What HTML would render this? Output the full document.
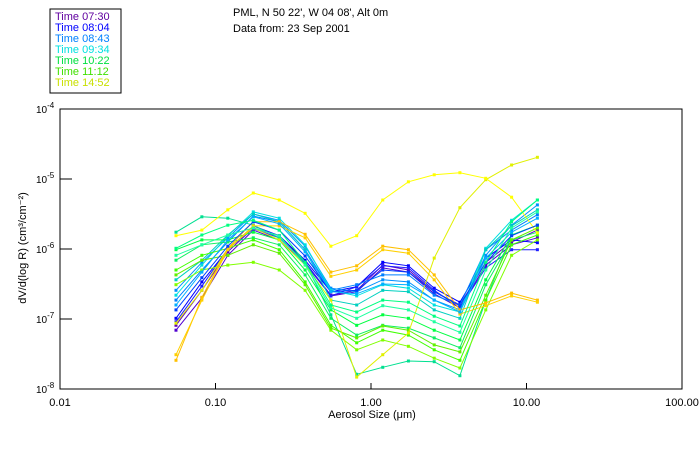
<!DOCTYPE html>
<html><head><meta charset="utf-8"><style>
body{margin:0;background:#fff;width:700px;height:450px;overflow:hidden}
svg{display:block;font-family:"Liberation Sans",sans-serif}
</style></head><body>
<svg id="chart" width="700" height="450">
<rect x="50" y="9" width="71" height="84" fill="#fff" stroke="#000" stroke-width="1"/>
<g id="legend"></g>
<text x="233" y="16" font-size="11">PML, N 50 22', W 04 08', Alt 0m</text>
<text x="233" y="32" font-size="11">Data from: 23 Sep 2001</text>
<g id="axes"></g>
<g id="series"></g>
<text x="372" y="418" font-size="11" text-anchor="middle">Aerosol Size (μm)</text>
<text transform="translate(26,248) rotate(-90)" font-size="11" text-anchor="middle">dV/d(log R) (cm³/cm⁻²)</text>
</svg>
<script>
const sizes=[0.0557,0.0817,0.120,0.175,0.257,0.377,0.552,0.809,1.19,1.74,2.55,3.73,5.47,8.02,11.75];
const legendLabels=["Time 07:30","Time 08:04","Time 08:43","Time 09:34","Time 10:22","Time 11:12","Time 14:52"];
const legendColors=["#6000a0","#0000ff","#0080ff","#00e0e0","#00e040","#40e000","#c8e000"];
const xTickValues=[0.01,0.1,1,10,100];
const xTickLabels=["0.01","0.10","1.00","10.00","100.00"];
const yTickExps=[-4,-5,-6,-7,-8];
const seriesColors=["#6000c0","#5000d0","#0000ff","#2020ff","#0080ff","#0090ff","#00e0e0","#00d0c0","#00e090","#00ff40","#10f060","#40ff00","#80ff00","#60f000","#e0f000","#ffff00","#ffc000","#ffd000","#0040ff","#00b0ff","#20ffa0","#00ff80"];
// log10 of dV/dlogR per series
const s01=[-7.09,-6.59,-6.04,-5.70,-5.81,-6.19,-6.66,-6.59,-6.23,-6.30,-6.61,-6.80,-6.19,-5.90,-5.73];
const s02=[-7.16,-6.70,-6.09,-5.73,-5.87,-6.21,-6.67,-6.61,-6.27,-6.33,-6.64,-6.84,-6.23,-5.94,-5.84];
const s03=[-6.99,-6.47,-6.01,-5.67,-5.81,-6.16,-6.61,-6.54,-6.19,-6.24,-6.56,-6.76,-6.13,-5.87,-5.91];
const s04=[-7.04,-6.53,-6.00,-5.71,-5.84,-6.19,-6.67,-6.54,-6.24,-6.27,-6.59,-6.84,-6.27,-6.01,-6.01];
const s05=[-6.73,-6.30,-5.90,-5.53,-5.61,-6.01,-6.59,-6.51,-6.37,-6.37,-6.66,-6.80,-6.01,-5.73,-5.51];
const s06=[-6.59,-6.19,-5.84,-5.50,-5.59,-5.96,-6.56,-6.61,-6.44,-6.47,-6.73,-6.87,-6.09,-5.66,-5.37];
const s07=[-6.66,-6.23,-5.81,-5.47,-5.56,-5.94,-6.59,-6.67,-6.51,-6.56,-6.80,-6.90,-5.99,-5.59,-5.30];
const s08=[-6.44,-6.16,-5.80,-5.50,-5.61,-6.01,-6.73,-6.80,-6.59,-6.61,-6.87,-6.99,-6.01,-5.67,-5.44];
const s09=[-5.76,-5.54,-5.56,-5.66,-5.84,-6.19,-6.94,-7.79,-7.69,-7.60,-7.61,-7.81,-6.73,-5.80,-5.66];
const s10=[-6.01,-5.87,-5.87,-5.76,-5.87,-6.30,-6.87,-7.09,-6.94,-6.99,-7.16,-7.30,-6.44,-5.80,-5.66];
const s11=[-6.16,-5.94,-5.90,-5.84,-5.94,-6.37,-6.99,-7.23,-7.09,-7.13,-7.27,-7.41,-6.51,-5.87,-5.76];
const s12=[-6.30,-6.09,-5.99,-5.87,-6.01,-6.47,-7.09,-7.34,-7.16,-7.23,-7.44,-7.59,-6.73,-5.94,-5.80];
const s13=[-6.51,-6.30,-6.23,-6.19,-6.30,-6.59,-7.16,-7.44,-7.30,-7.39,-7.56,-7.70,-6.87,-6.09,-5.87];
const s14=[-6.37,-6.16,-6.09,-5.94,-6.06,-6.51,-7.13,-7.27,-7.10,-7.16,-7.37,-7.47,-6.66,-5.87,-5.70];
const s15=[-7.06,-6.59,-5.99,-5.70,-5.87,-6.23,-6.73,-7.83,-7.51,-7.20,-6.13,-5.41,-5.01,-4.80,-4.69];
const s16=[-5.81,-5.73,-5.44,-5.20,-5.30,-5.49,-5.96,-5.81,-5.30,-5.04,-4.94,-4.91,-4.99,-5.26,-5.77];
const s17=[-7.59,-6.69,-5.99,-5.61,-5.61,-5.79,-6.33,-6.24,-5.96,-6.01,-6.37,-6.87,-6.77,-6.63,-6.73];
const s18=[-7.51,-6.73,-6.01,-5.67,-5.67,-5.84,-6.39,-6.30,-6.01,-6.06,-6.44,-6.93,-6.81,-6.67,-6.76];
const s19=[-6.87,-6.41,-5.96,-5.61,-5.73,-6.10,-6.61,-6.59,-6.30,-6.33,-6.61,-6.81,-6.19,-5.81,-5.66];
const s20=[-6.80,-6.33,-5.87,-5.54,-5.64,-6.04,-6.61,-6.64,-6.50,-6.51,-6.73,-6.90,-6.13,-5.76,-5.56];
const s21=[-6.09,-5.94,-5.80,-5.70,-5.81,-6.23,-6.84,-6.99,-6.81,-6.87,-7.04,-7.19,-6.30,-5.70,-5.47];
const s22=[-5.99,-5.80,-5.66,-5.59,-5.73,-6.19,-6.80,-6.90,-6.73,-6.76,-6.96,-7.10,-6.19,-5.61,-5.30];
const allSeries=[s01,s02,s03,s04,s05,s06,s07,s08,s09,s10,s11,s12,s13,s14,s15,s16,s17,s18,s19,s20,s21,s22];

const NS="http://www.w3.org/2000/svg";
const X0=60,X1=682,Y0=109,Y1=389;
function xScale(v){return X0+(Math.log10(v)+2)/4*(X1-X0);}
function yScale(lg){return Y0+(-4-lg)/4*(Y1-Y0);}
function mk(tag,attrs,parent){const e=document.createElementNS(NS,tag);for(const k in attrs)e.setAttribute(k,attrs[k]);parent.appendChild(e);return e;}

const axes=document.getElementById('axes');
const frame=mk('rect',{x:X0,y:Y0,width:X1-X0,height:Y1-Y0,fill:'none',stroke:'#000','stroke-width':1},axes);


xTickValues.forEach((v,i)=>{
  const x=xScale(v);
  const t=mk('line',{x1:x,x2:x,y1:Y1,y2:Y1-6,stroke:'#000'},axes);
  
  
  const l=mk('text',{x:x,y:Y1+17,'font-size':11,'text-anchor':'middle'},axes);
  l.textContent=xTickLabels[i];
  
  
});
yTickExps.forEach(e=>{
  const y=yScale(e);
  const t=mk('line',{x1:X0,x2:X0+12,y1:y,y2:y,stroke:'#000'},axes);
  
  
  const l=mk('text',{x:36,y:y+4,'font-size':10},axes);
  l.textContent='10';
  const sp=document.createElementNS(NS,'tspan');
  sp.setAttribute('dy','-5');sp.setAttribute('font-size','8');
  sp.textContent=String(e);
  l.appendChild(sp);
  
  
});

const sg=document.getElementById('series');
allSeries.forEach((s,i)=>{
  const g=mk('g',{},sg);
  
  
  const pts=s.map((v,j)=>xScale(sizes[j]).toFixed(1)+','+yScale(v).toFixed(1)).join(' ');
  mk('polyline',{points:pts,fill:'none',stroke:seriesColors[i],'stroke-width':1},g);
  s.forEach((v,j)=>{
    const r=mk('rect',{x:xScale(sizes[j])-1.5,y:yScale(v)-1.5,width:3,height:3,fill:seriesColors[i]},g);
    
    
  });
});

const lg=document.getElementById('legend');
legendLabels.forEach((t,i)=>{
  const e=mk('text',{x:55,y:20+i*11,'font-size':11,fill:legendColors[i]},lg);
  e.textContent=t;
  
  
});
</script>
</body></html>
